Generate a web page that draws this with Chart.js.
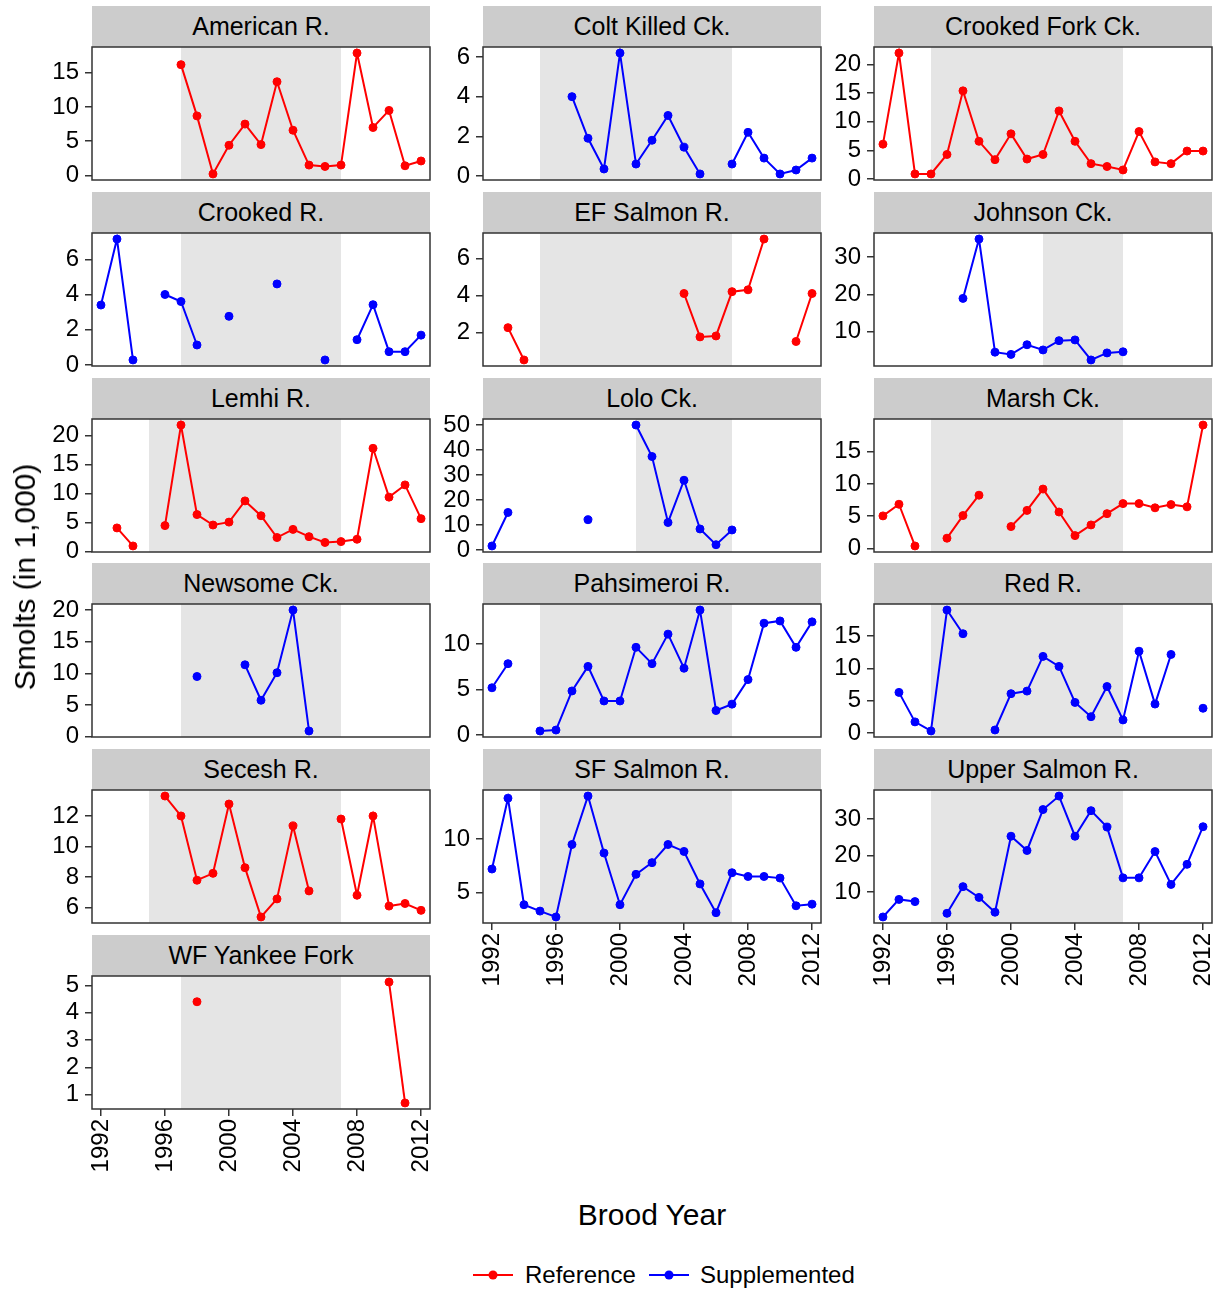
<!DOCTYPE html>
<html>
<head>
<meta charset="utf-8">
<script src="https://cdn.jsdelivr.net/npm/chart.js@4.4.1/dist/chart.umd.min.js"></script>
<style>
  body { margin: 0; background: #fff; font-family: "Liberation Sans", Arial, sans-serif; }
  #wrap { position: relative; width: 1220px; height: 1291px; overflow: hidden; }
  #wrap canvas { position: absolute; }
  .strip { position: absolute; background: #cccccc; color: #000; font-size: 25px;
           text-align: center; white-space: nowrap; }
  .title { position: absolute; color: #000; font-size: 30px; white-space: nowrap; }
  .legend { position: absolute; top: 1261px; left: 0; width: 1220px; height: 28px; font-size: 24px; }
  .legend span { position: absolute; top: 0; line-height: 28px; }
  .legend svg { position: absolute; top: 4px; }
</style>
</head>
<body>
<div id="wrap"></div>
<script>
// Smolt counts (thousands) by brood year, one facet per stream
const years = [1992, 1993, 1994, 1995, 1996, 1997, 1998, 1999, 2000, 2001, 2002,
               2003, 2004, 2005, 2006, 2007, 2008, 2009, 2010, 2011, 2012];
const xTickLabels = [1992, 1996, 2000, 2004, 2008, 2012];

const american    = [null, null, null, null, null, 16.2, 8.7, 0.2, 4.4, 7.5, 4.5, 13.7, 6.6, 1.5, 1.3, 1.5, 17.9, 7.0, 9.5, 1.4, 2.1];
const coltKilled  = [null, null, null, null, null, 4.0, 1.9, 0.35, 6.2, 0.6, 1.8, 3.05, 1.45, 0.1, null, 0.6, 2.2, 0.9, 0.1, 0.3, 0.9];
const crookedFork = [6.1, 22.0, 0.9, 0.9, 4.3, 15.4, 6.6, 3.4, 7.9, 3.5, 4.3, 11.9, 6.6, 2.7, 2.2, 1.6, 8.3, 3.0, 2.7, 4.9, 4.9];
const crookedR    = [3.4, 7.15, 0.28, null, 4.0, 3.6, 1.13, null, 2.76, null, null, 4.6, null, null, 0.28, null, 1.43, 3.42, 0.75, 0.75, 1.69];
const efSalmon    = [null, 2.25, 0.5, null, null, null, null, null, null, null, null, null, 4.1, 1.75, 1.8, 4.2, 4.3, 7.05, null, 1.5, 4.1];
const johnson     = [null, null, null, null, null, 18.9, 34.9, 4.4, 3.8, 6.4, 5.0, 7.5, 7.7, 2.3, 4.2, 4.5, null, null, null, null, null];
const lemhi       = [null, 4.1, 1.0, null, 4.5, 21.8, 6.4, 4.6, 5.1, 8.75, 6.2, 2.45, 3.85, 2.6, 1.6, 1.75, 2.15, 17.8, 9.4, 11.5, 5.7];
const lolo        = [1.6, 15.0, null, null, null, null, 12.1, null, null, 50.0, 37.4, 11.0, 27.9, 8.4, 2.1, 8.0, null, null, null, null, null];
const marsh       = [5.05, 6.85, 0.4, null, 1.6, 5.1, 8.25, null, 3.4, 5.9, 9.2, 5.65, 2.0, 3.65, 5.4, 6.95, 6.95, 6.3, 6.8, 6.45, 19.1];
const newsome     = [null, null, null, null, null, null, 9.5, null, null, 11.35, 5.75, 10.1, 20.0, 0.9, null, null, null, null, null, null, null];
const pahsimeroi  = [5.2, 7.85, null, 0.45, 0.55, 4.85, 7.55, 3.75, 3.75, 9.65, 7.85, 11.1, 7.35, 13.75, 2.7, 3.4, 6.1, 12.3, 12.55, 9.65, 12.45];
const redR        = [null, 6.3, 1.75, 0.35, 19.0, 15.35, null, 0.5, 6.1, 6.5, 11.85, 10.3, 4.75, 2.55, 7.2, 2.05, 12.65, 4.5, 12.15, null, 3.85];
const secesh      = [null, null, null, null, 13.3, 12.0, 7.8, 8.25, 12.78, 8.62, 5.4, 6.58, 11.35, 7.1, null, 11.8, 6.82, 12.0, 6.11, 6.28, 5.83];
const sfSalmon    = [7.2, 13.85, 3.85, 3.25, 2.7, 9.5, 14.05, 8.7, 3.85, 6.7, 7.8, 9.5, 8.85, 5.8, 3.1, 6.85, 6.5, 6.5, 6.35, 3.75, 3.9];
const upperSalmon = [3.2, 8.0, 7.4, null, 4.2, 11.5, 8.55, 4.5, 25.3, 21.4, 32.6, 36.3, 25.3, 32.3, 27.8, 13.9, 13.9, 21.1, 12.1, 17.6, 27.9];
const wfYankee    = [null, null, null, null, null, null, 4.4, null, null, null, null, null, null, null, null, null, null, null, 5.12, 0.7, null];

const siteNames = ['American R.', 'Colt Killed Ck.', 'Crooked Fork Ck.', 'Crooked R.', 'EF Salmon R.',
                   'Johnson Ck.', 'Lemhi R.', 'Lolo Ck.', 'Marsh Ck.', 'Newsome Ck.', 'Pahsimeroi R.',
                   'Red R.', 'Secesh R.', 'SF Salmon R.', 'Upper Salmon R.', 'WF Yankee Fork'];
const siteValues = [american, coltKilled, crookedFork, crookedR, efSalmon, johnson, lemhi, lolo,
                    marsh, newsome, pahsimeroi, redR, secesh, sfSalmon, upperSalmon, wfYankee];
const siteGroups = ['Reference', 'Supplemented', 'Reference', 'Supplemented', 'Reference', 'Supplemented',
                    'Reference', 'Supplemented', 'Reference', 'Supplemented', 'Supplemented', 'Supplemented',
                    'Reference', 'Supplemented', 'Supplemented', 'Reference'];
// treatment period shown as the grey band
const shadeFrom = [1997, 1995, 1995, 1997, 1995, 2002, 1995, 2001, 1995, 1997, 1995, 1995, 1995, 1995, 1995, 1997];
const shadeTo   = [2007, 2007, 2007, 2007, 2007, 2007, 2007, 2007, 2007, 2007, 2007, 2007, 2007, 2007, 2007, 2007];
const yTickValues = [
  [0, 5, 10, 15], [0, 2, 4, 6], [0, 5, 10, 15, 20], [0, 2, 4, 6], [2, 4, 6], [10, 20, 30],
  [0, 5, 10, 15, 20], [0, 10, 20, 30, 40, 50], [0, 5, 10, 15], [0, 5, 10, 15, 20], [0, 5, 10],
  [0, 5, 10, 15], [6, 8, 10, 12], [5, 10], [10, 20, 30], [1, 2, 3, 4, 5]
];

const groupColors = { Reference: '#ff0000', Supplemented: '#0000ff' };

// ---- layout ----
const FONT = '"Liberation Sans", Arial, sans-serif';
const colLeft = [92, 483, 874];
const plotW = 338, plotH = 133;
const rowPitch = 185.8, firstStrip = 6, stripH = 41;
// generous padding so tick labels near the edges never squeeze the plot area
const axisW = 92, padTop = 26, padRight = 30, padBottom = 26, xAxisH = 85;
const bottomPanels = [15, 13, 14];   // panels that carry the year axis

Chart.defaults.font.family = FONT;
Chart.defaults.color = '#000';

const shadePlugin = {
  id: 'shade',
  beforeDatasetsDraw(chart, args, opts) {
    const { ctx, chartArea: a, scales: { x } } = chart;
    const x0 = x.getPixelForValue(opts.from);
    const x1 = x.getPixelForValue(opts.to);
    ctx.save();
    ctx.fillStyle = '#e5e5e5';
    ctx.fillRect(x0, a.top, x1 - x0, a.bottom - a.top);
    ctx.restore();
  }
};

const framePlugin = {
  id: 'frame',
  afterDatasetsDraw(chart) {
    const { ctx, chartArea: a } = chart;
    ctx.save();
    ctx.strokeStyle = '#333333';
    ctx.lineWidth = 1.5;
    ctx.strokeRect(a.left, a.top, a.right - a.left, a.bottom - a.top);
    ctx.restore();
  }
};

function expandRange(vals) {
  const v = vals.filter(d => d !== null);
  const lo = Math.min(...v), hi = Math.max(...v);
  const pad = (hi - lo) * 0.05;
  return [lo - pad, hi + pad];
}

const wrap = document.getElementById('wrap');

siteNames.forEach((name, i) => {
  const row = Math.floor(i / 3), col = i % 3;
  const stripTop = Math.round(firstStrip + rowPitch * row);
  const panelTop = stripTop + stripH;
  const isBottom = bottomPanels.includes(i);
  const color = groupColors[siteGroups[i]];
  const [yMin, yMax] = expandRange(siteValues[i]);

  const strip = document.createElement('div');
  strip.className = 'strip';
  strip.style.left = colLeft[col] + 'px';
  strip.style.top = stripTop + 'px';
  strip.style.width = plotW + 'px';
  strip.style.height = stripH + 'px';
  strip.style.lineHeight = stripH + 'px';
  strip.textContent = name;
  wrap.appendChild(strip);

  const cv = document.createElement('canvas');
  const w = axisW + plotW + padRight;
  const h = padTop + plotH + (isBottom ? xAxisH : padBottom);
  cv.width = w; cv.height = h;
  cv.style.width = w + 'px'; cv.style.height = h + 'px';
  cv.style.left = (colLeft[col] - axisW) + 'px';
  cv.style.top = (panelTop - padTop) + 'px';
  wrap.appendChild(cv);

  const tickGrid = { drawOnChartArea: false, drawTicks: true, tickLength: 7, color: '#333333', lineWidth: 1.5 };

  new Chart(cv, {
    type: 'line',
    data: {
      datasets: [{
        label: siteGroups[i],
        data: years.map((yr, k) => ({ x: yr, y: siteValues[i][k] })),
        borderColor: color,
        backgroundColor: color,
        pointBackgroundColor: color,
        pointBorderColor: color,
        pointRadius: 4,
        pointBorderWidth: 1,
        borderWidth: 2,
        tension: 0,
        spanGaps: false,
        clip: false
      }]
    },
    options: {
      responsive: false,
      animation: false,
      devicePixelRatio: 1,
      layout: { padding: { top: padTop, right: padRight, bottom: isBottom ? 0 : padBottom, left: 0 } },
      plugins: {
        legend: { display: false },
        tooltip: { enabled: false },
        shade: { from: shadeFrom[i], to: shadeTo[i] }
      },
      scales: {
        x: {
          type: 'linear',
          min: 1991.44,
          max: 2012.56,
          display: isBottom,
          afterBuildTicks: s => { s.ticks = xTickLabels.map(v => ({ value: v })); },
          afterFit: s => { s.height = isBottom ? xAxisH : 0; },
          grid: tickGrid,
          border: { display: false },
          ticks: {
            autoSkip: false, minRotation: 90, maxRotation: 90, padding: 3,
            color: '#000', font: { size: 24 },
            callback: v => String(v)
          }
        },
        y: {
          type: 'linear',
          min: yMin,
          max: yMax,
          afterBuildTicks: s => { s.ticks = yTickValues[i].map(v => ({ value: v })); },
          afterFit: s => { s.width = axisW; },
          grid: tickGrid,
          border: { display: false },
          ticks: {
            autoSkip: false, padding: 6, color: '#000', font: { size: 24 },
            callback: v => String(v)
          }
        }
      }
    },
    plugins: [shadePlugin, framePlugin]
  });
});

// axis titles
const yTitle = document.createElement('div');
yTitle.className = 'title';
yTitle.textContent = 'Smolts (in 1,000)';
yTitle.style.left = '25px';
yTitle.style.top = '577px';
yTitle.style.transform = 'translate(-50%, -50%) rotate(-90deg)';
wrap.appendChild(yTitle);

const xTitle = document.createElement('div');
xTitle.className = 'title';
xTitle.textContent = 'Brood Year';
xTitle.style.left = '652px';
xTitle.style.top = '1215px';
xTitle.style.transform = 'translate(-50%, -50%)';
wrap.appendChild(xTitle);

// legend
const legend = document.createElement('div');
legend.className = 'legend';
const legendItems = [
  { label: 'Reference', keyLeft: 473, textLeft: 525 },
  { label: 'Supplemented', keyLeft: 649, textLeft: 700 }
];
legendItems.forEach(item => {
  const c = groupColors[item.label];
  const key = document.createElementNS('http://www.w3.org/2000/svg', 'svg');
  key.setAttribute('width', '40');
  key.setAttribute('height', '20');
  key.style.left = item.keyLeft + 'px';
  key.innerHTML = `<line x1="0" y1="10" x2="40" y2="10" stroke="${c}" stroke-width="2"/>` +
                  `<circle cx="20" cy="10" r="4.5" fill="${c}"/>`;
  legend.appendChild(key);
  const txt = document.createElement('span');
  txt.style.left = item.textLeft + 'px';
  txt.textContent = item.label;
  legend.appendChild(txt);
});
wrap.appendChild(legend);
</script>
</body>
</html>
